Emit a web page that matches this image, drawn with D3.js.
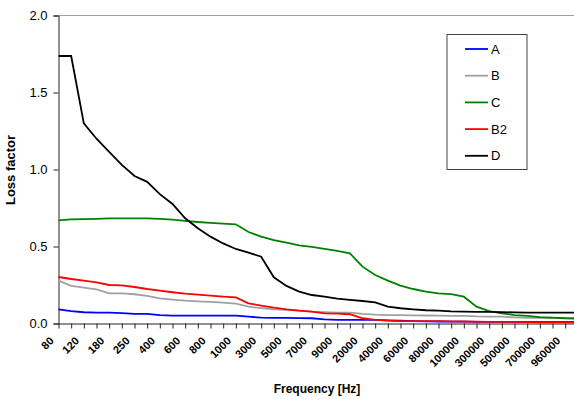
<!doctype html>
<html lang="en">
  <head>
    <meta charset="UTF-8" />
    <title>Loss factor vs frequency</title>
    <style>
      body {
        margin: 0;
        background: #fff;
      }
      svg {
        display: block;
        font-family: Arial, "Liberation Sans", sans-serif;
      }
    </style>
  </head>
  <body>
    <svg id="chart"></svg>

    <script src="https://d3js.org/d3.v7.min.js"></script>
    <script>
      const categories = [
        "80", "100", "120", "150", "180", "200", "250", "300", "400", "500",
        "600", "700", "800", "900", "1000", "2000", "3000", "4000", "5000", "6000",
        "7000", "8000", "9000", "10000", "20000", "30000", "40000", "50000", "60000", "70000",
        "80000", "90000", "100000", "200000", "300000", "400000", "500000", "600000", "700000", "800000",
        "960000", "1000000",
      ];

      const seriesA = [
        0.092, 0.081, 0.073, 0.07, 0.07, 0.068, 0.062, 0.062, 0.055, 0.051,
        0.051, 0.051, 0.051, 0.051, 0.051, 0.044, 0.038, 0.036, 0.036, 0.035,
        0.034, 0.027, 0.023, 0.023, 0.023, 0.023, 0.02, 0.018, 0.016, 0.014,
        0.013, 0.012, 0.012, 0.01, 0.01, 0.01, 0.01, 0.01, 0.01, 0.01,
        0.01, 0.01,
      ];
      const seriesB = [
        0.278, 0.245, 0.233, 0.222, 0.196, 0.196, 0.19, 0.179, 0.163, 0.155,
        0.148, 0.144, 0.14, 0.135, 0.129, 0.109, 0.1, 0.092, 0.088, 0.083,
        0.077, 0.073, 0.07, 0.07, 0.062, 0.057, 0.055, 0.054, 0.053, 0.052,
        0.051, 0.05, 0.05, 0.046, 0.045, 0.044, 0.04, 0.037, 0.036, 0.035,
        0.035, 0.035,
      ];
      const seriesC = [
        0.67, 0.676, 0.678, 0.68, 0.683, 0.683, 0.683, 0.683, 0.68, 0.674,
        0.667, 0.659, 0.653, 0.648, 0.644, 0.594, 0.564, 0.542, 0.525, 0.508,
        0.497, 0.484, 0.471, 0.456, 0.369, 0.315, 0.278, 0.246, 0.224, 0.207,
        0.196, 0.191, 0.174, 0.109, 0.081, 0.066, 0.055, 0.049, 0.042, 0.038,
        0.034, 0.032,
      ];
      const seriesB2 = [
        0.302, 0.289, 0.278, 0.267, 0.25, 0.248, 0.237, 0.224, 0.213, 0.203,
        0.194, 0.187, 0.181, 0.174, 0.17, 0.131, 0.116, 0.103, 0.092, 0.083,
        0.077, 0.066, 0.064, 0.06, 0.034, 0.023, 0.019, 0.016, 0.016, 0.016,
        0.015, 0.014, 0.013, 0.012, 0.011, 0.01, 0.01, 0.009, 0.008, 0.008,
        0.008, 0.008,
      ];
      const seriesD = [
        1.737, 1.737, 1.3, 1.2, 1.115, 1.03, 0.958, 0.92, 0.84, 0.776,
        0.683, 0.618, 0.564, 0.52, 0.484, 0.46, 0.434, 0.3, 0.244, 0.207,
        0.185, 0.174, 0.161, 0.153, 0.146, 0.137, 0.109, 0.099, 0.092, 0.086,
        0.083, 0.079, 0.077, 0.076, 0.075, 0.074, 0.072, 0.07, 0.07, 0.07,
        0.07, 0.07,
      ];

      const seriesNames = ["A", "B", "C", "B2", "D"];
      const seriesColors = ["#0000ff", "#a0a0a0", "#008000", "#ff0000", "#000000"];
      const yTicks = [0, 0.5, 1.0, 1.5, 2.0];

      const series = [seriesA, seriesB, seriesC, seriesB2, seriesD].map((values, i) => ({
        name: seriesNames[i],
        color: seriesColors[i],
        values: values,
      }));

      const width = 574;
      const height = 399;
      const svg = d3.select("#chart").attr("width", width).attr("height", height);

      const left = 58.5;
      const step = 12.667;
      const x = d3
        .scalePoint()
        .domain(categories)
        .range([left, left + step * (categories.length - 1)]);
      const y = d3.scaleLinear().domain([0, 2]).range([323.5, 15.5]);

      // top border of plot area
      svg
        .append("line")
        .attr("x1", left)
        .attr("x2", width)
        .attr("y1", y(2))
        .attr("y2", y(2))
        .attr("stroke", "#a0a0a0");

      // y axis
      const yAxis = svg
        .append("g")
        .attr("transform", `translate(${left},0)`)
        .call(
          d3
            .axisLeft(y)
            .tickValues(yTicks)
            .tickFormat(d3.format(".1f"))
            .tickSizeOuter(0)
            .tickSize(5)
            .tickPadding(6),
        );
      yAxis.select(".domain").attr("stroke", "#222");
      yAxis.selectAll(".tick line").attr("stroke", "#222");
      yAxis.selectAll("text").attr("font-size", 13).attr("fill", "#000").attr("font-family", "Arial");

      // x axis
      const xAxis = svg
        .append("g")
        .attr("transform", `translate(0,${y(0)})`)
        .call(d3.axisBottom(x).tickSizeOuter(0).tickSize(5).tickFormat(""));
      xAxis.select(".domain").attr("stroke", "#222").attr("d", `M${left},0.5H${width}`);
      xAxis.selectAll(".tick line").attr("stroke", "#222");

      svg
        .append("g")
        .selectAll("text")
        .data(categories.filter((d, i) => i % 2 === 0))
        .join("text")
        .attr("transform", (d) => `translate(${x(d) - 4},${y(0) + 18}) rotate(-45)`)
        .attr("text-anchor", "end")
        .attr("font-size", 11)
        .attr("font-weight", "bold")
        .attr("font-family", "Arial")
        .text((d) => d);

      // axis titles
      svg
        .append("text")
        .attr("transform", "translate(15,170) rotate(-90)")
        .attr("text-anchor", "middle")
        .attr("font-size", 13)
        .attr("font-weight", "bold")
        .text("Loss factor");

      svg
        .append("text")
        .attr("x", 317)
        .attr("y", 393)
        .attr("text-anchor", "middle")
        .attr("font-size", 12)
        .attr("font-weight", "bold")
        .text("Frequency [Hz]");

      // lines
      const line = d3
        .line()
        .x((d, i) => x(categories[i]))
        .y((d) => y(d));

      svg
        .append("g")
        .selectAll("path")
        .data(series)
        .join("path")
        .attr("fill", "none")
        .attr("stroke", (d) => d.color)
        .attr("stroke-width", 1.8)
        .attr("d", (d) => line(d.values));

      // legend
      const legend = svg.append("g");
      legend
        .append("rect")
        .attr("x", 447)
        .attr("y", 34.5)
        .attr("width", 80)
        .attr("height", 135)
        .attr("fill", "#fff")
        .attr("stroke", "#444");

      const rowY = (i) => 49 + i * 26.7;
      legend
        .selectAll("line.key")
        .data(series)
        .join("line")
        .attr("class", "key")
        .attr("x1", 465)
        .attr("x2", 488)
        .attr("y1", (d, i) => rowY(i))
        .attr("y2", (d, i) => rowY(i))
        .attr("stroke", (d) => d.color)
        .attr("stroke-width", 1.8);

      legend
        .selectAll("text")
        .data(series)
        .join("text")
        .attr("x", 491)
        .attr("y", (d, i) => rowY(i))
        .attr("dy", "0.36em")
        .attr("font-size", 13)
        .text((d) => d.name);
    </script>
  </body>
</html>
